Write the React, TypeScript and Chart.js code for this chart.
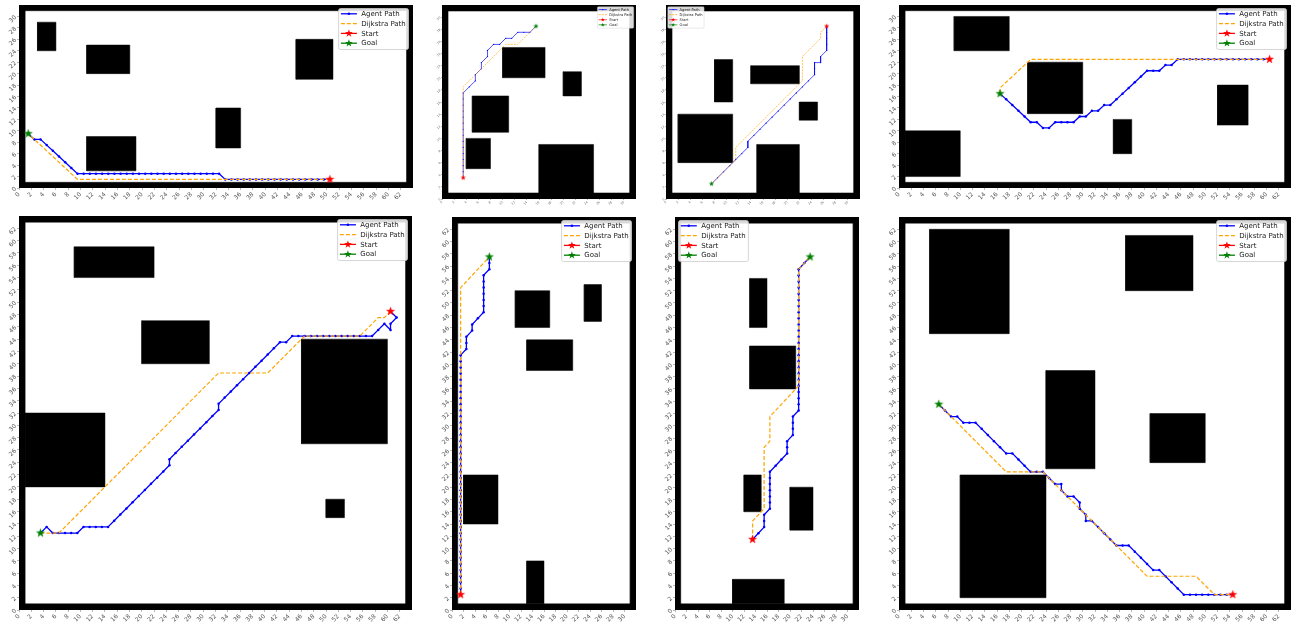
import React, { useEffect, useRef } from 'react';
import { Chart, registerables } from 'chart.js';

Chart.register(...registerables);

type Pt = [number, number];
type Rect = [number, number, number, number]; // x0, x1, y0, y1

const legendLabels = ['Agent Path', 'Dijkstra Path', 'Start', 'Goal'];

const ticks64 = [0, 2, 4, 6, 8, 10, 12, 14, 16, 18, 20, 22, 24, 26, 28, 30, 32, 34, 36, 38, 40, 42, 44, 46, 48, 50, 52, 54, 56, 58, 60, 62];
const ticks32 = [0, 2, 4, 6, 8, 10, 12, 14, 16, 18, 20, 22, 24, 26, 28, 30];

// ---------------- Panel 1 (64 x 32) ----------------
const p1Obstacles: Rect[] = [[3, 6, 24, 29], [11, 18, 20, 25], [11, 19, 3, 9], [32, 36, 7, 14], [45, 51, 19, 26]];
const p1Start: Pt = [50.5, 1.5];
const p1Goal: Pt = [1.5, 9.5];
const p1Agent: Pt[] = [
  [50.5, 1.5], [49.5, 1.5], [48.5, 1.5], [47.5, 1.5], [46.5, 1.5], [45.5, 1.5], [44.5, 1.5], [43.5, 1.5], [42.5, 1.5],
  [41.5, 1.5], [40.5, 1.5], [39.5, 1.5], [38.5, 1.5], [37.5, 1.5], [36.5, 1.5], [35.5, 1.5], [34.5, 1.5], [33.5, 1.5],
  [32.5, 2.5], [31.5, 2.5], [30.5, 2.5], [29.5, 2.5], [28.5, 2.5], [27.5, 2.5], [26.5, 2.5], [25.5, 2.5], [24.5, 2.5],
  [23.5, 2.5], [22.5, 2.5], [21.5, 2.5], [20.5, 2.5], [19.5, 2.5], [18.5, 2.5], [17.5, 2.5], [16.5, 2.5], [15.5, 2.5],
  [14.5, 2.5], [13.5, 2.5], [12.5, 2.5], [11.5, 2.5], [10.5, 2.5], [9.5, 2.5],
  [8.5, 3.5], [7.5, 4.5], [6.5, 5.5], [5.5, 6.5], [4.5, 7.5], [3.5, 8.5], [2.5, 8.5], [1.5, 9.5],
];
const p1Dijkstra: Pt[] = [[50.5, 1.5], [9.5, 1.5], [1.5, 9.5]];

// ---------------- Panel 2 (32 x 32) ----------------
const p2Obstacles: Rect[] = [[10, 17, 20, 25], [20, 23, 17, 21], [5, 11, 11, 17], [4, 8, 5, 10], [16, 25, 1, 9]];
const p2Start: Pt = [3.5, 3.5];
const p2Goal: Pt = [15.5, 28.5];
const p2Agent: Pt[] = [
  [3.5, 3.5], [3.5, 4.5], [3.5, 5.5], [3.5, 6.5], [3.5, 7.5], [3.5, 8.5], [3.5, 9.5], [3.5, 10.5], [3.5, 11.5],
  [3.5, 12.5], [3.5, 13.5], [3.5, 14.5], [3.5, 15.5], [3.5, 16.5], [3.5, 17.5], [4.5, 18.5], [5.5, 19.5], [5.5, 20.5],
  [6.5, 21.5], [6.5, 22.5], [7.5, 23.5], [7.5, 24.5], [8.5, 25.5], [9.5, 25.5], [10.5, 26.5], [11.5, 26.5],
  [12.5, 27.5], [13.5, 27.5], [14.5, 27.5], [15.5, 28.5],
];
const p2Dijkstra: Pt[] = [[3.5, 3.5], [3.5, 18.5], [10.5, 25.5], [12.5, 25.5], [15.5, 28.5]];

// ---------------- Panel 3 (32 x 32) ----------------
const p3Obstacles: Rect[] = [[8, 11, 16, 23], [14, 22, 19, 22], [2, 11, 6, 14], [22, 25, 13, 16], [15, 22, 1, 9]];
const p3Start: Pt = [26.5, 28.5];
const p3Goal: Pt = [7.5, 2.5];
const p3Agent: Pt[] = [
  [26.5, 28.5], [26.5, 27.5], [26.5, 26.5], [26.5, 25.5], [26.5, 24.5], [25.5, 23.5], [25.5, 22.5], [24.5, 22.5],
  [24.5, 21.5], [24.5, 20.5], [23.5, 19.5], [22.5, 18.5], [21.5, 17.5], [20.5, 16.5], [19.5, 15.5], [18.5, 14.5],
  [17.5, 13.5], [16.5, 12.5], [15.5, 11.5], [14.5, 10.5], [13.5, 9.5], [13.5, 8.5], [12.5, 7.5], [11.5, 6.5],
  [10.5, 5.5], [9.5, 4.5], [8.5, 3.5], [7.5, 2.5],
];
const p3Dijkstra: Pt[] = [[26.5, 28.5], [25.5, 27.5], [25.5, 26.5], [22.5, 23.5], [22.5, 19.5], [11.5, 8.5], [11.5, 6.5], [7.5, 2.5]];

// ---------------- Panel 4 (64 x 32) ----------------
const p4Obstacles: Rect[] = [[9, 18, 24, 30], [1, 10, 2, 10], [21, 30, 13, 22], [35, 38, 6, 12], [52, 57, 11, 18]];
const p4Start: Pt = [60.5, 22.5];
const p4Goal: Pt = [16.5, 16.5];
const p4Agent: Pt[] = [
  [60.5, 22.5], [59.5, 22.5], [58.5, 22.5], [57.5, 22.5], [56.5, 22.5], [55.5, 22.5], [54.5, 22.5], [53.5, 22.5],
  [52.5, 22.5], [51.5, 22.5], [50.5, 22.5], [49.5, 22.5], [48.5, 22.5], [47.5, 22.5], [46.5, 22.5], [45.5, 22.5],
  [44.5, 21.5], [43.5, 21.5], [42.5, 20.5], [41.5, 20.5], [40.5, 20.5], [39.5, 19.5], [38.5, 18.5], [37.5, 17.5],
  [36.5, 16.5], [35.5, 15.5], [34.5, 14.5], [33.5, 14.5], [32.5, 13.5], [31.5, 13.5], [30.5, 12.5], [29.5, 12.5],
  [28.5, 11.5], [27.5, 11.5], [26.5, 11.5], [25.5, 11.5], [24.5, 10.5], [23.5, 10.5], [22.5, 11.5], [21.5, 11.5],
  [20.5, 12.5], [19.5, 13.5], [18.5, 14.5], [17.5, 15.5], [16.5, 16.5],
];
const p4Dijkstra: Pt[] = [[60.5, 22.5], [21.5, 22.5], [16.5, 17.5], [16.5, 16.5]];

// ---------------- Panel 5 (64 x 64) ----------------
const p5Obstacles: Rect[] = [[9, 22, 54, 59], [20, 31, 40, 47], [1, 14, 20, 32], [46, 60, 27, 44], [50, 53, 15, 18]];
const p5Start: Pt = [60.5, 48.5];
const p5Goal: Pt = [3.5, 12.5];
const p5Agent: Pt[] = [
  [3.5, 12.5], [4.5, 13.5], [5.5, 12.5], [6.5, 12.5], [7.5, 12.5], [8.5, 12.5], [9.5, 12.5], [10.5, 13.5], [11.5, 13.5],
  [12.5, 13.5], [13.5, 13.5], [14.5, 13.5], [15.5, 14.5], [16.5, 15.5], [17.5, 16.5], [18.5, 17.5], [19.5, 18.5],
  [20.5, 19.5], [21.5, 20.5], [22.5, 21.5], [23.5, 22.5], [24.5, 23.5], [24.5, 24.5], [25.5, 25.5], [26.5, 26.5],
  [27.5, 27.5], [28.5, 28.5], [29.5, 29.5], [30.5, 30.5], [31.5, 31.5], [32.5, 32.5], [32.5, 33.5], [33.5, 34.5],
  [34.5, 35.5], [35.5, 36.5], [36.5, 37.5], [37.5, 38.5], [38.5, 39.5], [39.5, 40.5], [40.5, 41.5], [41.5, 42.5],
  [42.5, 43.5], [43.5, 43.5], [44.5, 44.5], [45.5, 44.5], [46.5, 44.5], [47.5, 44.5], [48.5, 44.5], [49.5, 44.5],
  [50.5, 44.5], [51.5, 44.5], [52.5, 44.5], [53.5, 44.5], [54.5, 44.5], [55.5, 44.5], [56.5, 44.5], [57.5, 44.5],
  [58.5, 45.5], [59.5, 46.5], [60.5, 45.5], [60.5, 46.5], [61.5, 47.5], [60.5, 48.5],
];
const p5Dijkstra: Pt[] = [[3.5, 12.5], [6.5, 12.5], [32.5, 38.5], [40.5, 38.5], [46.5, 44.5], [55.5, 44.5], [58.5, 47.5], [59.5, 47.5], [60.5, 48.5]];

// ---------------- Panel 6 (32 x 64) ----------------
const p6Obstacles: Rect[] = [[11, 17, 46, 52], [23, 26, 47, 53], [13, 21, 39, 44], [2, 8, 14, 22], [13, 16, 1, 8]];
const p6Start: Pt = [1.5, 2.5];
const p6Goal: Pt = [6.5, 57.5];
const p6Agent: Pt[] = [
  [1.5, 2.5], [1.5, 3.5], [1.5, 4.5], [1.5, 5.5], [1.5, 6.5], [1.5, 7.5], [1.5, 8.5], [1.5, 9.5], [1.5, 10.5],
  [1.5, 11.5], [1.5, 12.5], [1.5, 13.5], [1.5, 14.5], [1.5, 15.5], [1.5, 16.5], [1.5, 17.5], [1.5, 18.5], [1.5, 19.5],
  [1.5, 20.5], [1.5, 21.5], [1.5, 22.5], [1.5, 23.5], [1.5, 24.5], [1.5, 25.5], [1.5, 26.5], [1.5, 27.5], [1.5, 28.5],
  [1.5, 29.5], [1.5, 30.5], [1.5, 31.5], [1.5, 32.5], [1.5, 33.5], [1.5, 34.5], [1.5, 35.5], [1.5, 36.5], [1.5, 37.5],
  [1.5, 38.5], [1.5, 39.5], [1.5, 40.5], [1.5, 41.5], [2.5, 42.5], [2.5, 43.5], [2.5, 44.5], [3.5, 45.5], [3.5, 46.5],
  [4.5, 47.5], [5.5, 48.5], [5.5, 49.5], [5.5, 50.5], [5.5, 51.5], [5.5, 52.5], [5.5, 53.5], [5.5, 54.5], [6.5, 55.5],
  [6.5, 56.5], [6.5, 57.5],
];
const p6Dijkstra: Pt[] = [[1.5, 2.5], [1.5, 52.5], [6.5, 57.5]];

// ---------------- Panel 7 (32 x 64) ----------------
const p7Obstacles: Rect[] = [[13, 16, 46, 54], [13, 21, 36, 43], [12, 15, 16, 22], [20, 24, 13, 20], [10, 19, 1, 5]];
const p7Start: Pt = [13.5, 11.5];
const p7Goal: Pt = [23.5, 57.5];
const p7Agent: Pt[] = [
  [13.5, 11.5], [14.5, 12.5], [15.5, 13.5], [15.5, 14.5], [15.5, 15.5], [16.5, 16.5], [16.5, 17.5], [16.5, 18.5],
  [16.5, 19.5], [16.5, 20.5], [16.5, 21.5], [16.5, 22.5], [17.5, 23.5], [18.5, 24.5], [19.5, 25.5], [19.5, 26.5],
  [19.5, 27.5], [20.5, 28.5], [20.5, 29.5], [20.5, 30.5], [20.5, 31.5], [21.5, 32.5], [21.5, 33.5], [21.5, 34.5],
  [21.5, 35.5], [21.5, 36.5], [21.5, 37.5], [21.5, 38.5], [21.5, 39.5], [21.5, 40.5], [21.5, 41.5], [21.5, 42.5],
  [21.5, 43.5], [21.5, 44.5], [21.5, 45.5], [21.5, 46.5], [21.5, 47.5], [21.5, 48.5], [21.5, 49.5], [21.5, 50.5],
  [21.5, 51.5], [21.5, 52.5], [21.5, 53.5], [21.5, 54.5], [21.5, 55.5], [22.5, 56.5], [23.5, 57.5],
];
const p7Dijkstra: Pt[] = [[13.5, 11.5], [13.5, 14.5], [15.5, 16.5], [15.5, 26.5], [16.5, 27.5], [16.5, 31.5], [21.5, 36.5], [21.5, 55.5], [23.5, 57.5]];

// ---------------- Panel 8 (64 x 64) ----------------
const p8Obstacles: Rect[] = [[5, 18, 45, 62], [37, 48, 52, 61], [24, 32, 23, 39], [41, 50, 24, 32], [10, 24, 2, 22]];
const p8Start: Pt = [54.5, 2.5];
const p8Goal: Pt = [6.5, 33.5];
const p8Agent: Pt[] = [
  [6.5, 33.5], [7.5, 32.5], [8.5, 31.5], [9.5, 31.5], [10.5, 30.5], [11.5, 30.5], [12.5, 30.5], [13.5, 29.5],
  [14.5, 28.5], [15.5, 27.5], [16.5, 26.5], [17.5, 25.5], [18.5, 25.5], [19.5, 24.5], [20.5, 23.5], [21.5, 22.5],
  [22.5, 22.5], [23.5, 22.5], [24.5, 21.5], [25.5, 20.5], [26.5, 20.5], [26.5, 19.5], [27.5, 18.5], [28.5, 18.5],
  [29.5, 17.5], [29.5, 16.5], [30.5, 15.5], [30.5, 14.5], [31.5, 14.5], [32.5, 13.5], [33.5, 12.5], [34.5, 11.5],
  [35.5, 10.5], [36.5, 10.5], [37.5, 10.5], [38.5, 9.5], [39.5, 8.5], [40.5, 7.5], [41.5, 6.5], [42.5, 6.5],
  [43.5, 5.5], [44.5, 4.5], [45.5, 3.5], [46.5, 2.5], [47.5, 2.5], [48.5, 2.5], [49.5, 2.5], [50.5, 2.5],
  [51.5, 2.5], [52.5, 2.5], [53.5, 2.5], [54.5, 2.5],
];
const p8Dijkstra: Pt[] = [[6.5, 33.5], [17.5, 22.5], [23.5, 22.5], [40.5, 5.5], [48.5, 5.5], [51.5, 2.5], [54.5, 2.5]];

// ---------------- layout ----------------
interface PanelSpec {
  W: number; H: number; xTicks: number[]; yTicks: number[];
  obstacles: Rect[]; agent: Pt[]; dijkstra: Pt[]; start: Pt; goal: Pt;
  left: number; top: number; width: number; height: number;
  padL: number; padT: number; padR: number; padB: number;
  side: 'left' | 'right'; s: number; tickFont: number;
}

const big = { padT: 4, padR: 3, s: 1, tickFont: 6 };
const small = { padL: 13, padT: 2, padR: 2, padB: 8, s: 0.52, tickFont: 3 };

const panels: PanelSpec[] = [
  { W: 64, H: 32, xTicks: ticks64, yTicks: ticks32.slice(0, 16), obstacles: p1Obstacles, agent: p1Agent, dijkstra: p1Dijkstra, start: p1Start, goal: p1Goal,
    left: 19, top: 4, width: 396, height: 184, padL: 19, padB: 13, side: 'right', ...big },
  { W: 32, H: 32, xTicks: ticks32, yTicks: ticks32, obstacles: p2Obstacles, agent: p2Agent, dijkstra: p2Dijkstra, start: p2Start, goal: p2Goal,
    left: 442, top: 2, width: 197, height: 197, side: 'right', ...small },
  { W: 32, H: 32, xTicks: ticks32, yTicks: ticks32, obstacles: p3Obstacles, agent: p3Agent, dijkstra: p3Dijkstra, start: p3Start, goal: p3Goal,
    left: 666, top: 2, width: 197, height: 197, side: 'left', ...small },
  { W: 64, H: 32, xTicks: ticks64, yTicks: ticks32, obstacles: p4Obstacles, agent: p4Agent, dijkstra: p4Dijkstra, start: p4Start, goal: p4Goal,
    left: 899, top: 4, width: 394, height: 184, padL: 20, padB: 13, side: 'right', ...big },
  { W: 64, H: 64, xTicks: ticks64, yTicks: ticks64, obstacles: p5Obstacles, agent: p5Agent, dijkstra: p5Dijkstra, start: p5Start, goal: p5Goal,
    left: 19, top: 215, width: 395, height: 395, padL: 19, padB: 19, side: 'right', ...big },
  { W: 32, H: 64, xTicks: ticks32, yTicks: ticks64, obstacles: p6Obstacles, agent: p6Agent, dijkstra: p6Dijkstra, start: p6Start, goal: p6Goal,
    left: 452, top: 216, width: 186, height: 394, padL: 20, padB: 19, side: 'right', ...big },
  { W: 32, H: 64, xTicks: ticks32, yTicks: ticks64, obstacles: p7Obstacles, agent: p7Agent, dijkstra: p7Dijkstra, start: p7Start, goal: p7Goal,
    left: 675, top: 216, width: 186, height: 394, padL: 20, padB: 19, side: 'left', ...big },
  { W: 64, H: 64, xTicks: ticks64, yTicks: ticks64, obstacles: p8Obstacles, agent: p8Agent, dijkstra: p8Dijkstra, start: p8Start, goal: p8Goal,
    left: 899, top: 216, width: 394, height: 394, padL: 20, padB: 19, side: 'right', ...big },
];

const toXY = (p: Pt) => ({ x: p[0], y: p[1] });

function rectData(r: Rect) {
  return [
    { x: r[0], y: r[2] }, { x: r[1], y: r[2] }, { x: r[1], y: r[3] }, { x: r[0], y: r[3] }, { x: r[0], y: r[2] },
  ];
}

function starPath(ctx: CanvasRenderingContext2D, cx: number, cy: number, R: number) {
  const r = R * 0.4;
  ctx.beginPath();
  for (let i = 0; i < 10; i++) {
    const rad = i % 2 === 0 ? R : r;
    const a = -Math.PI / 2 + (i * Math.PI) / 5;
    const px = cx + rad * Math.cos(a);
    const py = cy + rad * Math.sin(a);
    if (i === 0) ctx.moveTo(px, py); else ctx.lineTo(px, py);
  }
  ctx.closePath();
}

function starCanvas(color: string, d: number) {
  const c = document.createElement('canvas');
  const n = Math.ceil(d) + 2;
  c.width = n;
  c.height = n;
  const g = c.getContext('2d')!;
  starPath(g, n / 2, n / 2, d / 2);
  g.fillStyle = color;
  g.fill();
  g.lineWidth = 0.4;
  g.strokeStyle = color;
  g.stroke();
  return c;
}

function legendPlugin(side: 'left' | 'right', s: number) {
  return {
    id: 'mplLegend',
    afterDatasetsDraw(chart: any) {
      const ctx: CanvasRenderingContext2D = chart.ctx;
      const a = chart.chartArea;
      const fs = 7 * s;
      ctx.save();
      ctx.font = `${fs}px "DejaVu Sans", sans-serif`;
      const tw = Math.max(...legendLabels.map((l) => ctx.measureText(l).width));
      const padX = 2.3 * s, hl = 16 * s, gap = 4.4 * s, row = 9.8 * s, padTop = 5.3 * s;
      const w = padX + hl + gap + tw + 2.7 * s;
      const h = 41 * s;
      const x0 = side === 'right' ? a.right - 4.5 * s - w : a.left + 3.5 * s;
      const y0 = a.top + 3.5 * s;
      ctx.beginPath();
      (ctx as any).roundRect(x0, y0, w, h, 2 * s);
      ctx.fillStyle = 'rgba(255,255,255,0.85)';
      ctx.fill();
      ctx.lineWidth = 0.8 * s;
      ctx.strokeStyle = '#cccccc';
      ctx.stroke();
      const colors = ['#0000ff', '#ffa500', '#ff0000', '#008000'];
      legendLabels.forEach((lab, i) => {
        const cy = y0 + padTop + i * row;
        const hx0 = x0 + padX;
        const hx1 = hx0 + hl;
        const hc = (hx0 + hx1) / 2;
        ctx.save();
        ctx.strokeStyle = colors[i];
        ctx.lineWidth = 1.3 * s;
        if (i === 1) ctx.setLineDash([4 * s, 2 * s]);
        ctx.beginPath();
        ctx.moveTo(hx0, cy);
        ctx.lineTo(hx1, cy);
        ctx.stroke();
        ctx.restore();
        ctx.fillStyle = colors[i];
        if (i === 0) {
          ctx.beginPath();
          ctx.arc(hc, cy, 1.3 * s, 0, Math.PI * 2);
          ctx.fill();
        } else if (i >= 2) {
          starPath(ctx, hc, cy, 4 * s);
          ctx.fill();
        }
        ctx.fillStyle = '#1a1a1a';
        ctx.textBaseline = 'middle';
        ctx.textAlign = 'left';
        ctx.fillText(lab, hx1 + gap, cy + 0.3 * s);
      });
      ctx.restore();
    },
  };
}

function buildConfig(p: PanelSpec): any {
  const s = p.s;
  const walls: Rect[] = [[0, p.W, 0, 1], [0, p.W, p.H - 1, p.H], [0, 1, 0, p.H], [p.W - 1, p.W, 0, p.H]];
  const rectDs = (r: Rect) => ({
    data: rectData(r),
    fill: 'shape',
    backgroundColor: '#000000',
    borderColor: '#000000',
    borderWidth: 0.5,
    pointRadius: 0,
    pointHoverRadius: 0,
    tension: 0,
    order: 10,
  });
  const datasets: any[] = [
    ...walls.map(rectDs),
    ...p.obstacles.map(rectDs),
    {
      label: 'Agent Path', data: p.agent.map(toXY), borderColor: '#0000ff', backgroundColor: '#0000ff',
      borderWidth: 1.3 * s, pointRadius: 1.25 * s, pointBorderWidth: 0, pointBackgroundColor: '#0000ff',
      fill: false, tension: 0, order: 2,
    },
    {
      label: 'Dijkstra Path', data: p.dijkstra.map(toXY), borderColor: '#ffa500', borderWidth: 1.2 * s,
      borderDash: [4 * s, 2 * s], pointRadius: 0, fill: false, tension: 0, order: 1,
    },
    {
      label: 'Start', data: [toXY(p.start)], showLine: false, pointStyle: starCanvas('#ff0000', 8.5 * s),
      pointRadius: 4 * s, order: 0,
    },
    {
      label: 'Goal', data: [toXY(p.goal)], showLine: false, pointStyle: starCanvas('#008000', 8.5 * s),
      pointRadius: 4 * s, order: 0,
    },
  ];
  const tickColor = '#555555';
  return {
    type: 'line',
    data: { datasets },
    options: {
      animation: false,
      responsive: false,
      events: [],
      layout: { padding: { left: 0, top: p.padT, right: p.padR, bottom: 0 } },
      plugins: { legend: { display: false }, tooltip: { enabled: false }, title: { display: false } },
      scales: {
        x: {
          type: 'linear', min: 0, max: p.W,
          afterBuildTicks: (sc: any) => { sc.ticks = p.xTicks.map((v) => ({ value: v })); },
          ticks: {
            autoSkip: false, minRotation: 45, maxRotation: 45, padding: 1 * s, color: tickColor,
            font: { size: p.tickFont, family: 'DejaVu Sans' }, callback: (v: any) => String(v),
          },
          grid: { drawOnChartArea: false, tickLength: 2 * s, color: '#888888', lineWidth: 0.6 },
          border: { display: false },
          afterFit: (sc: any) => { sc.height = p.padB; sc.paddingLeft = 0; sc.paddingRight = 0; },
        },
        y: {
          type: 'linear', min: 0, max: p.H,
          afterBuildTicks: (sc: any) => { sc.ticks = p.yTicks.map((v) => ({ value: v })); },
          ticks: {
            autoSkip: false, minRotation: 45, maxRotation: 45, padding: 1.5 * s, color: tickColor,
            font: { size: p.tickFont, family: 'DejaVu Sans' }, callback: (v: any) => String(v),
          },
          grid: { drawOnChartArea: false, tickLength: 2 * s, color: '#888888', lineWidth: 0.6 },
          border: { display: false },
          afterFit: (sc: any) => { sc.width = p.padL; sc.paddingTop = 0; sc.paddingBottom = 0; },
        },
      },
    },
    plugins: [legendPlugin(p.side, s)],
  };
}

function Panel({ p }: { p: PanelSpec }) {
  const ref = useRef<HTMLCanvasElement>(null);
  const cw = p.width + p.padL + p.padR;
  const ch = p.height + p.padT + p.padB;
  useEffect(() => {
    const chart = new Chart(ref.current as HTMLCanvasElement, buildConfig(p));
    return () => chart.destroy();
  }, []);
  return (
    <canvas
      ref={ref}
      width={cw}
      height={ch}
      style={{ position: 'absolute', left: p.left - p.padL, top: p.top - p.padT, width: cw, height: ch }}
    />
  );
}

export default function App() {
  return (
    <div style={{ position: 'absolute', left: 0, top: 0, width: 1296, height: 629, background: '#ffffff', overflow: 'hidden' }}>
      {panels.map((p, i) => (
        <Panel key={i} p={p} />
      ))}
    </div>
  );
}
